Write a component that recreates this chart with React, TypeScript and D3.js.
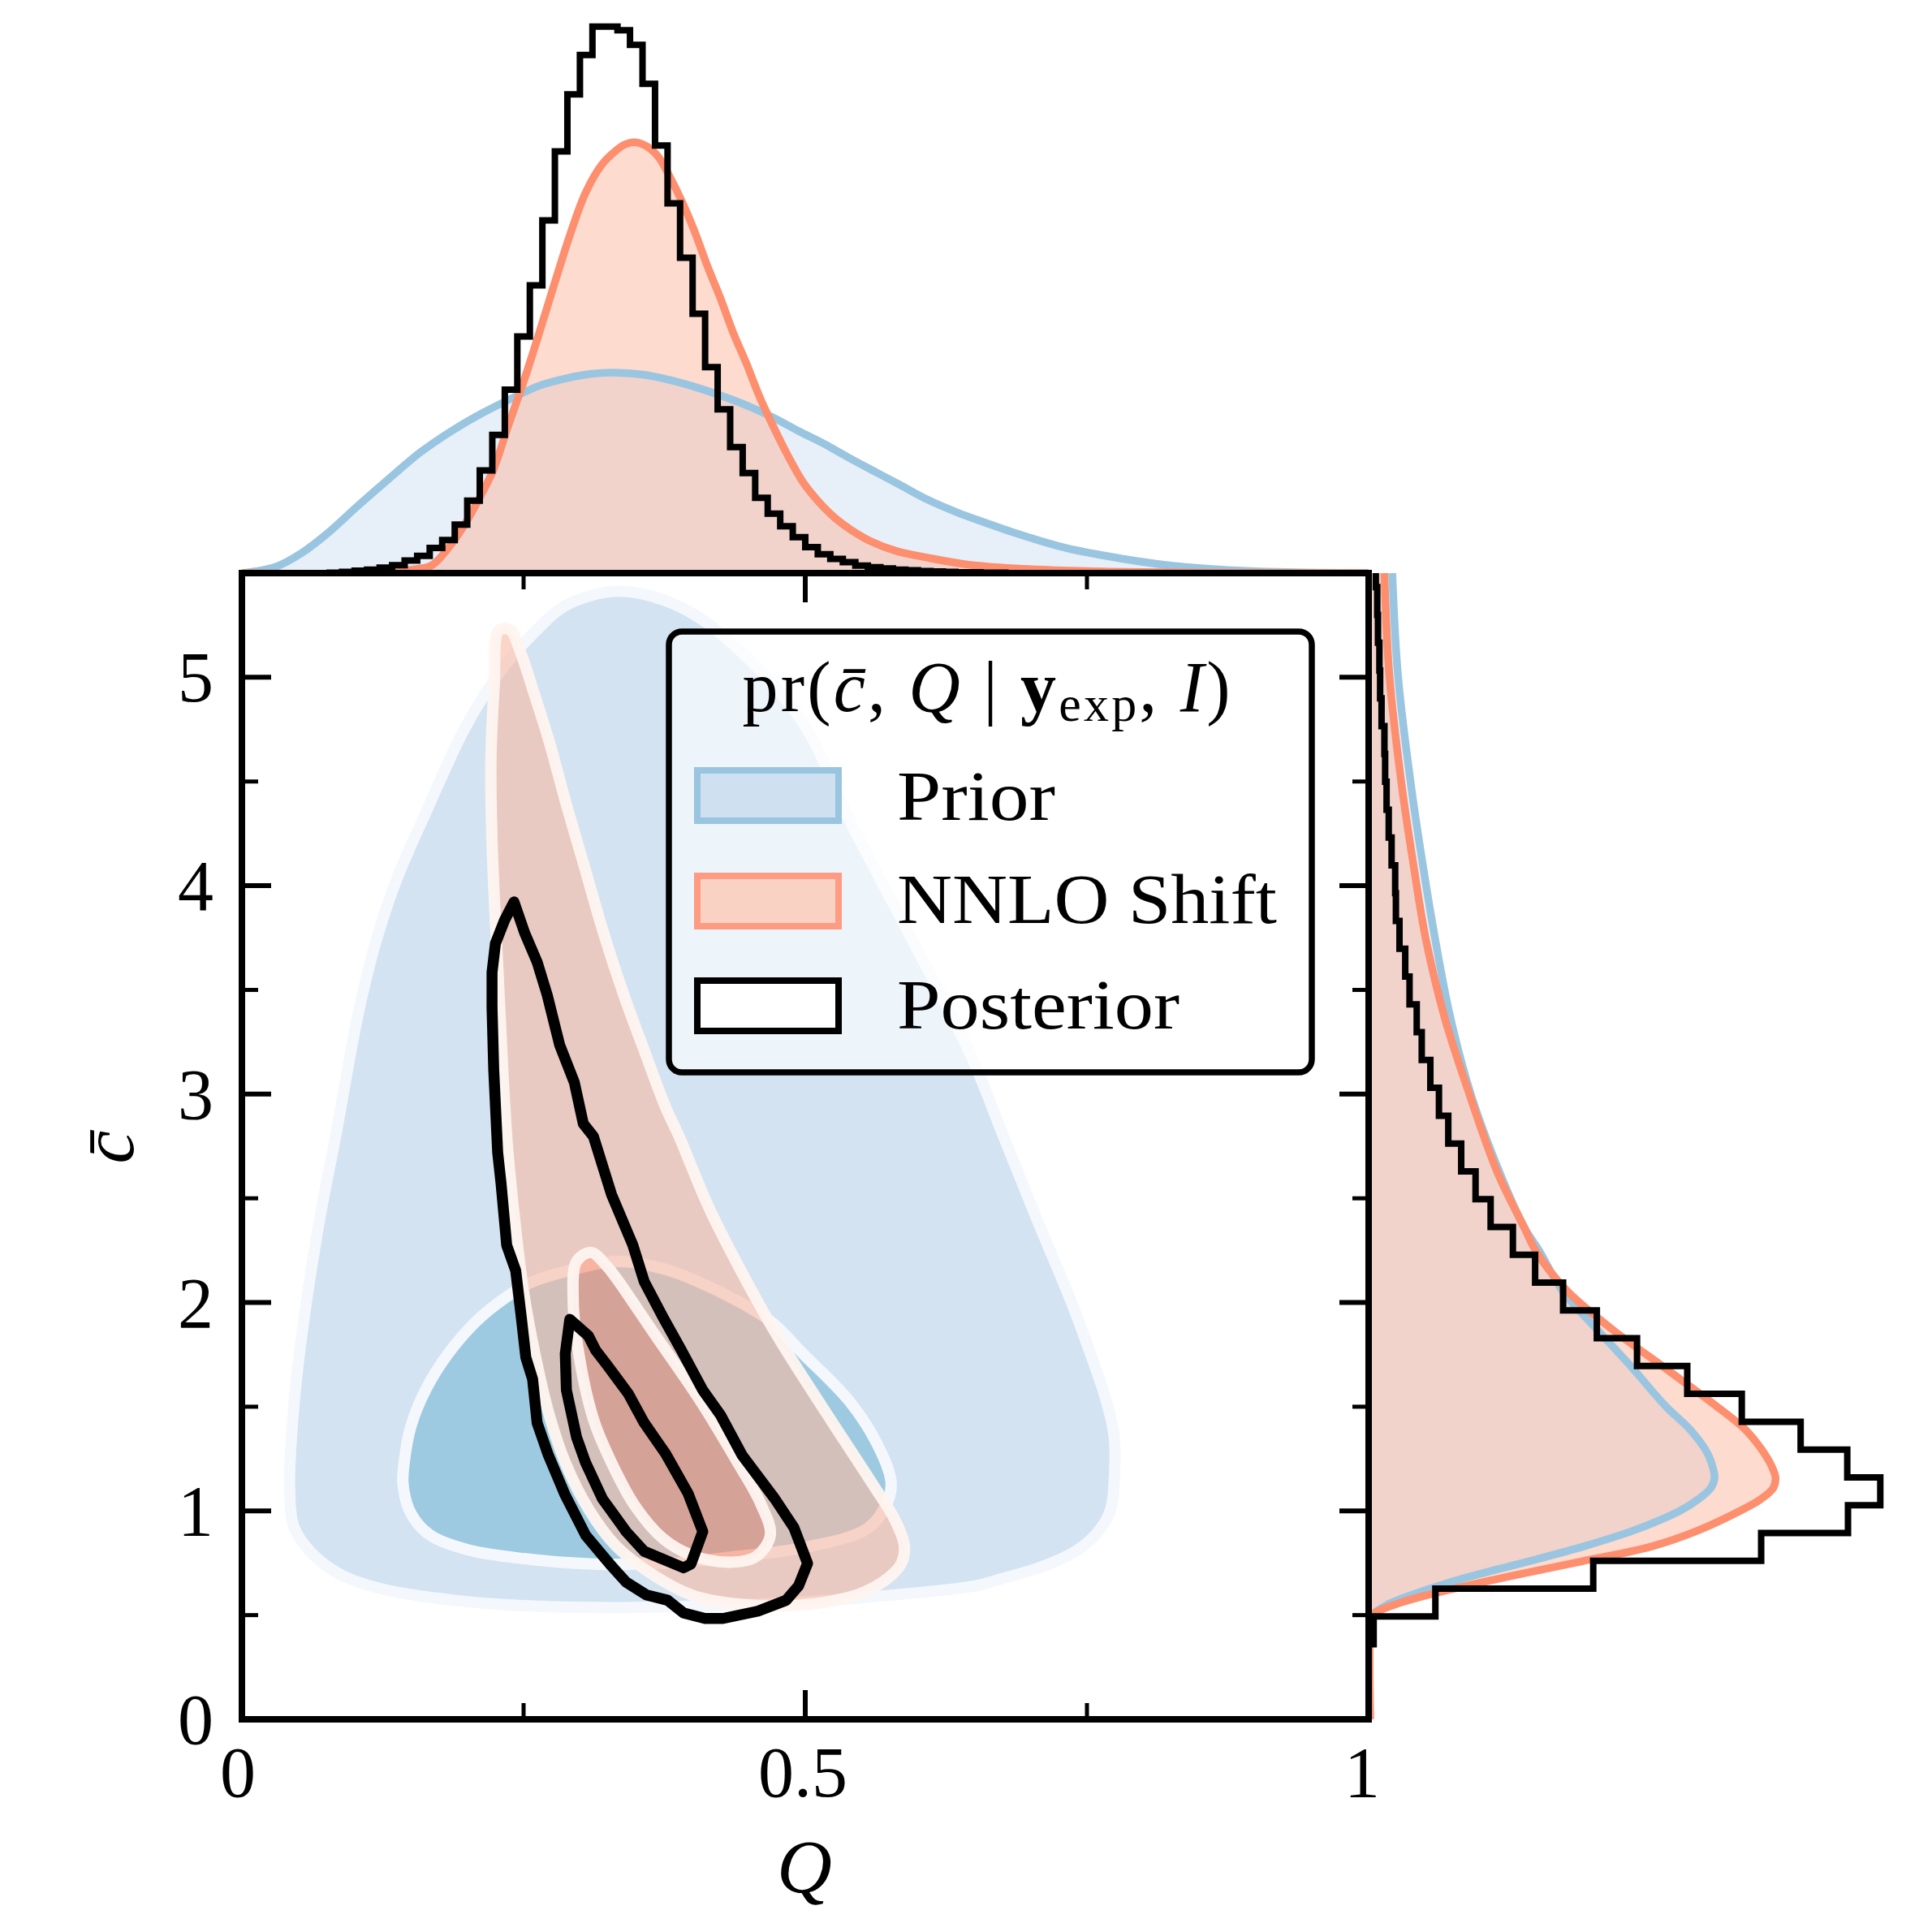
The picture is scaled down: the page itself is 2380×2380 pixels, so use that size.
import { useEffect, useRef } from 'react'
import * as d3 from 'd3'

type Pt = [number, number]

// 2D contours, [Q, cbar]
const priorOuter: Pt[] = [[.332,5.413],[.375,5.37],[.418,5.24],[.495,4.807],[.542,4.285],[.6,3.689],[.647,3.187],[.676,2.797],[.705,2.408],[.735,2.018],[.753,1.757],[.7666,1.539],[.774,1.367],[.7745,1.173],[.771,1.005],[.76,.9],[.741,.81],[.71,.732],[.674,.674],[.65,.639],[.56,.588],[.498,.562],[.415,.545],[.332,.536],[.25,.545],[.188,.571],[.126,.623],[.088,.693],[.062,.797],[.0459,.927],[.0423,1.11],[.0427,1.239],[.0483,1.628],[.0576,2.018],[.0692,2.408],[.0831,2.797],[.103,3.381],[.1189,3.732],[.1383,4.044],[.1635,4.355],[.1745,4.489],[.195,4.727],[.214,4.906],[.236,5.075],[.261,5.224],[.287,5.344]]
const priorInner: Pt[] = [[.332,2.197],[.374,2.162],[.415,2.075],[.469,1.91],[.498,1.754],[.539,1.527],[.564,1.319],[.576,1.145],[.574,1.058],[.556,.919],[.498,.823],[.436,.78],[.394,.754],[.353,.745],[.312,.745],[.25,.771],[.2,.814],[.167,.884],[.15,.988],[.143,1.127],[.144,1.232],[.15,1.406],[.163,1.58],[.183,1.754],[.208,1.91],[.233,2.02],[.258,2.1],[.291,2.154]]
const nnloOuter: Pt[] = [[.238,5.228],[.247,5.125],[.258,4.946],[.273,4.687],[.288,4.389],[.303,4.11],[.321,3.773],[.339,3.475],[.358,3.196],[.376,2.938],[.388,2.797],[.415,2.449],[.448,2.101],[.477,1.823],[.518,1.475],[.56,1.127],[.58,.953],[.588,.832],[.5854,.75],[.574,.68],[.552,.61],[.527,.571],[.485,.545],[.44,.553],[.399,.597],[.365,.693],[.332,.832],[.308,1.006],[.287,1.232],[.272,1.475],[.26,1.754],[.25,2.049],[.241,2.449],[.235,2.797],[.227,3.614],[.222,4.21],[.221,4.608],[.224,4.966],[.228,5.224]]
const nnloInner: Pt[] = [[.31,2.24],[.323,2.18],[.332,2.119],[.365,1.858],[.407,1.527],[.44,1.232],[.46,1.04],[.469,.884],[.456,.78],[.432,.754],[.399,.788],[.374,.866],[.349,1.023],[.328,1.232],[.312,1.44],[.299,1.754],[.294,2.014],[.297,2.197]]
const postOuter: Pt[] = [[.2415,3.922],[.251,3.773],[.262,3.634],[.271,3.475],[.282,3.236],[.295,3.057],[.303,2.858],[.312,2.797],[.328,2.519],[.347,2.275],[.357,2.101],[.374,1.927],[.39,1.771],[.409,1.58],[.425,1.458],[.444,1.267],[.473,1.058],[.49,.919],[.502,.748],[.494,.64],[.483,.571],[.458,.519],[.427,.484],[.411,.484],[.392,.51],[.378,.571],[.359,.597],[.341,.658],[.328,.736],[.305,.884],[.287,1.075],[.272,1.267],[.262,1.423],[.258,1.632],[.252,1.736],[.248,1.927],[.243,2.153],[.235,2.275],[.23,2.571],[.227,2.72],[.2235,3.117],[.222,3.415],[.222,3.584],[.225,3.723],[.233,3.833]]
const postInner: Pt[] = [[.291,1.919],[.3075,1.84],[.314,1.771],[.324,1.701],[.343,1.562],[.357,1.423],[.376,1.275],[.396,1.084],[.409,.901],[.3985,.745],[.392,.727],[.357,.806],[.341,.901],[.32,1.058],[.305,1.232],[.297,1.354],[.288,1.58],[.287,1.754]]

// top marginal, density of Q
const priorQGrid = [0,.03,.053,.076,.103,.131,.158,.186,.213,.241,.264,.287,.31,.333,.356,.379,.402,.425,.448,.471,.494,.517,.54,.563,.586,.609,.635,.66,.684,.731,.78,.828,.875,.92,.96,1]
const priorQDensity = [0,.08,.255,.505,.855,1.205,1.53,1.805,2.03,2.23,2.38,2.47,2.53,2.545,2.52,2.455,2.365,2.255,2.13,1.98,1.805,1.64,1.455,1.28,1.105,.93,.77,.64,.52,.32,.186,.09,.04,.015,.005,0]
const nnloQGrid = [0,.13,.149,.168,.181,.195,.209,.223,.236,.25,.264,.278,.292,.305,.319,.331,.34,.35,.361,.37,.379,.391,.402,.413,.425,.436,.448,.459,.471,.485,.498,.512,.526,.54,.558,.581,.609,.641,.686,.75,.8,.85,.95,1]
const nnloQDensity = [0,0,.04,.095,.28,.555,.905,1.305,1.855,2.43,3.055,3.705,4.33,4.83,5.18,5.355,5.445,5.47,5.405,5.28,5.055,4.705,4.33,3.905,3.48,3.055,2.655,2.255,1.88,1.48,1.155,.905,.705,.555,.405,.28,.195,.115,.06,.025,.012,.006,0,0]
const postQHist = [0,0,0,0,0,0,0,.005,.015,.03,.045,.07,.1,.16,.22,.32,.42,.615,.92,1.305,1.755,2.33,3.005,3.655,4.48,5.355,6.08,6.58,6.94,6.94,6.895,6.71,6.215,5.43,4.695,4.005,3.295,2.615,2.08,1.6,1.27,.955,.755,.595,.455,.33,.24,.18,.14,.095,.075,.06,.045,.035,.025,.02,.015,.01,.01,.005,.005]

// right marginal, density of cbar
const cGrid = [0,.44,.496,.552,.608,.682,.757,.831,.906,.999,1.055,1.111,1.159,1.204,1.278,1.39,1.502,1.688,1.875,2.061,2.247,2.359,2.62,2.993,3.366,3.738,4.111,4.484,5.006,5.5]
const priorCDensity = [.002,.002,.004,.027,.069,.138,.222,.301,.369,.433,.459,.477,.482,.48,.472,.448,.414,.367,.317,.269,.238,.217,.183,.143,.114,.093,.075,.059,.041,.033]
const nnloCDensity = [.002,.002,.004,.038,.096,.191,.296,.396,.459,.517,.546,.564,.567,.563,.551,.525,.485,.412,.338,.275,.233,.217,.18,.141,.106,.08,.062,.046,.029,.022]
const postCHist = [.007,.093,.313,.547,.668,.713,.667,.602,.52,.444,.374,.318,.271,.232,.201,.17,.149,.129,.111,.098,.086,.074,.067,.057,.051,.043,.038,.037,.032,.028,.025,.023,.022,.018,.016,.015,.013,.012,.01]

const qTicks = [0, 0.5, 1]
const qMinor = [0.25, 0.75]
const cTicks = [0, 1, 2, 3, 4, 5]
const cMinor = [0.5, 1.5, 2.5, 3.5, 4.5]

const legendLabels = ['Prior', 'NNLO Shift', 'Posterior']

const BLUE = '#9ac5e0'
const ORANGE = '#fd8e6e'
const SERIF = '"Liberation Serif", serif'

export default function App() {
  const ref = useRef<SVGSVGElement>(null)

  useEffect(() => {
    if (!ref.current) return
    const svg = d3.select(ref.current)
    svg.selectAll('*').remove()

    const left = 298, right = 1686, top = 706, bottom = 2118
    const x = d3.scaleLinear().domain([0, 1]).range([left, right])
    const y = d3.scaleLinear().domain([0, 5.5]).range([bottom, top])
    const yTop = d3.scaleLinear().domain([0, 7]).range([top, top - 679])
    const xRight = d3.scaleLinear().domain([0, 0.75]).range([right, right + 663])
    const curve = d3.curveCatmullRom.alpha(0.5)

    const defs = svg.append('defs')
    defs.append('clipPath').attr('id', 'clip-top').append('rect')
      .attr('x', left).attr('y', 0).attr('width', right - left).attr('height', top)
    defs.append('clipPath').attr('id', 'clip-right').append('rect')
      .attr('x', right).attr('y', top).attr('width', 694).attr('height', bottom - top)

    // top marginal
    const gTop = svg.append('g').attr('clip-path', 'url(#clip-top)')
    const areaQ = d3.area<Pt>().x(d => x(d[0])).y0(top).y1(d => yTop(d[1])).curve(curve)
    const lineQ = d3.line<Pt>().x(d => x(d[0])).y(d => yTop(d[1])).curve(curve)
    const priorQ = priorQGrid.map((q, i) => [q, priorQDensity[i]] as Pt)
    const nnloQ = nnloQGrid.map((q, i) => [q, nnloQDensity[i]] as Pt)
    gTop.append('path').attr('d', areaQ(priorQ)).attr('fill', '#e7eff8')
    gTop.append('path').attr('d', areaQ(nnloQ)).attr('fill', '#fbb79f').attr('fill-opacity', 0.5)
    gTop.append('path').attr('d', lineQ(priorQ)).attr('fill', 'none').attr('stroke', BLUE).attr('stroke-width', 9.5)
    gTop.append('path').attr('d', lineQ(nnloQ)).attr('fill', 'none').attr('stroke', ORANGE).attr('stroke-width', 9.5)

    const qBin = 1 / 90
    const qSteps: Pt[] = [[0, 0]]
    postQHist.forEach((v, i) => { qSteps.push([i * qBin, v], [(i + 1) * qBin, v]) })
    qSteps.push([postQHist.length * qBin, 0])
    gTop.append('path')
      .attr('d', d3.line<Pt>().x(d => x(d[0])).y(d => yTop(d[1]))(qSteps))
      .attr('fill', 'none').attr('stroke', '#000').attr('stroke-width', 8).attr('stroke-linejoin', 'miter')

    // right marginal
    const gRight = svg.append('g').attr('clip-path', 'url(#clip-right)')
    const areaC = d3.area<Pt>().y(d => y(d[0])).x0(right).x1(d => xRight(d[1])).curve(curve)
    const lineC = d3.line<Pt>().y(d => y(d[0])).x(d => xRight(d[1])).curve(curve)
    const priorC = cGrid.map((c, i) => [c, priorCDensity[i]] as Pt)
    const nnloC = cGrid.map((c, i) => [c, nnloCDensity[i]] as Pt)
    gRight.append('path').attr('d', areaC(priorC)).attr('fill', '#e7eff8')
    gRight.append('path').attr('d', areaC(nnloC)).attr('fill', '#fbb79f').attr('fill-opacity', 0.5)
    gRight.append('path').attr('d', lineC(priorC)).attr('fill', 'none').attr('stroke', BLUE).attr('stroke-width', 9.5)
    gRight.append('path').attr('d', lineC(nnloC)).attr('fill', 'none').attr('stroke', ORANGE).attr('stroke-width', 9.5)

    const cBin = 0.1335, cStart = 0.36
    const cSteps: Pt[] = [[cStart, 0]]
    postCHist.forEach((v, i) => { cSteps.push([cStart + i * cBin, v], [cStart + (i + 1) * cBin, v]) })
    gRight.append('path')
      .attr('d', d3.line<Pt>().y(d => y(d[0])).x(d => xRight(d[1]))(cSteps))
      .attr('fill', 'none').attr('stroke', '#000').attr('stroke-width', 8).attr('stroke-linejoin', 'miter')

    // joint contours
    const smooth = d3.line<Pt>().x(d => x(d[0])).y(d => y(d[1])).curve(d3.curveCatmullRomClosed.alpha(0.5))
    const poly = d3.line<Pt>().x(d => x(d[0])).y(d => y(d[1])).curve(d3.curveLinearClosed)
    const gMain = svg.append('g')
    const halo = (d: string | null, color: string) =>
      gMain.append('path').attr('d', d).attr('fill', 'none').attr('stroke', color)
        .attr('stroke-width', 14).attr('stroke-linejoin', 'round')

    gMain.append('path').attr('d', smooth(priorOuter)).attr('fill', '#d3e3f2')
    halo(smooth(priorOuter), '#f4f8fd')
    gMain.append('path').attr('d', smooth(priorInner)).attr('fill', '#9ecae1')
    halo(smooth(priorInner), '#f4f8fd')

    gMain.append('path').attr('d', `${smooth(nnloOuter)}${smooth(nnloInner)}`)
      .attr('fill', '#f9b9a2').attr('fill-opacity', 0.6).attr('fill-rule', 'evenodd')
    gMain.append('path').attr('d', smooth(nnloInner)).attr('fill', '#fa8766').attr('fill-opacity', 0.6)
    halo(smooth(nnloOuter), '#fef4f0').attr('stroke-opacity', 0.95)
    halo(smooth(nnloInner), '#fef4f0').attr('stroke-opacity', 0.95)

    ;[postOuter, postInner].forEach(contour => {
      gMain.append('path').attr('d', poly(contour)).attr('fill', 'none')
        .attr('stroke', '#000').attr('stroke-width', 13.5).attr('stroke-linejoin', 'round')
    })

    // ticks on all four sides, pointing in
    const tick = (x1: number, y1: number, x2: number, y2: number, w: number) =>
      svg.append('line').attr('x1', x1).attr('y1', y1).attr('x2', x2).attr('y2', y2)
        .attr('stroke', '#000').attr('stroke-width', w)
    qTicks.forEach(q => {
      tick(x(q), bottom, x(q), bottom - 36, 6)
      tick(x(q), top, x(q), top + 36, 6)
    })
    qMinor.forEach(q => {
      tick(x(q), bottom, x(q), bottom - 20, 5)
      tick(x(q), top, x(q), top + 20, 5)
    })
    cTicks.forEach(c => {
      tick(left, y(c), left + 36, y(c), 6)
      tick(right, y(c), right - 36, y(c), 6)
    })
    cMinor.forEach(c => {
      tick(left, y(c), left + 20, y(c), 5)
      tick(right, y(c), right - 20, y(c), 5)
    })

    svg.append('rect').attr('x', left).attr('y', top)
      .attr('width', right - left).attr('height', bottom - top)
      .attr('fill', 'none').attr('stroke', '#000').attr('stroke-width', 8)

    const label = (tx: number, ty: number, s: string, size = 88) =>
      svg.append('text').attr('x', tx).attr('y', ty).attr('text-anchor', 'middle')
        .style('font-family', SERIF).style('font-size', `${size}px`).attr('fill', '#000').text(s)

    qTicks.forEach(q => label(x(q) - (q === 0 ? 5 : q === 1 ? 8 : 3), 2213, String(q)))
    cTicks.forEach(c => label(241, y(c) + 30, String(c)))
    label(991, 2331, 'Q', 94).style('font-style', 'italic')
    label(0, 0, 'c\u0304', 92).style('font-style', 'italic')
      .attr('transform', 'translate(164,1413) rotate(-90)')

    // legend
    const lg = svg.append('g')
    lg.append('rect').attr('x', 824).attr('y', 778).attr('width', 792).attr('height', 543)
      .attr('rx', 16).attr('fill', '#fff').attr('fill-opacity', 0.6)
      .attr('stroke', '#000').attr('stroke-width', 7.5)

    const title = lg.append('text').attr('x', 1215).attr('y', 876).attr('text-anchor', 'middle')
      .attr('textLength', 601).attr('lengthAdjust', 'spacing')
      .style('font-family', SERIF).style('font-size', '88px').attr('fill', '#000')
    title.append('tspan').text('pr(')
    title.append('tspan').style('font-style', 'italic').text('c\u0304')
    title.append('tspan').text(', ')
    title.append('tspan').style('font-style', 'italic').text('Q')
    title.append('tspan').text(' | ')
    title.append('tspan').style('font-weight', '700').text('y')
    title.append('tspan').attr('dy', 12).style('font-size', '62px').text('exp')
    title.append('tspan').attr('dy', -12).text(', ')
    title.append('tspan').style('font-style', 'italic').text('I')
    title.append('tspan').text(')')

    const patchFill = ['#cfe0f0', '#f9d2c3', '#fff']
    const patchStroke = [BLUE, '#fd9c82', '#000']
    const patchY = [949, 1079, 1208]
    const textY = [1010, 1137, 1267]
    const textW = [195, 468, 348]
    legendLabels.forEach((s, i) => {
      lg.append('rect').attr('x', 859).attr('y', patchY[i]).attr('width', 174).attr('height', 62)
        .attr('fill', patchFill[i]).attr('stroke', patchStroke[i]).attr('stroke-width', 8)
      lg.append('text').attr('x', 1105).attr('y', textY[i])
        .attr('textLength', textW[i]).attr('lengthAdjust', 'spacingAndGlyphs')
        .style('font-family', SERIF).style('font-size', '86px').attr('fill', '#000').text(s)
    })
  }, [])

  return (
    <svg ref={ref} width={2380} height={2380} viewBox="0 0 2380 2380"
      style={{ position: 'absolute', left: 0, top: 0, background: '#fff' }} />
  )
}
